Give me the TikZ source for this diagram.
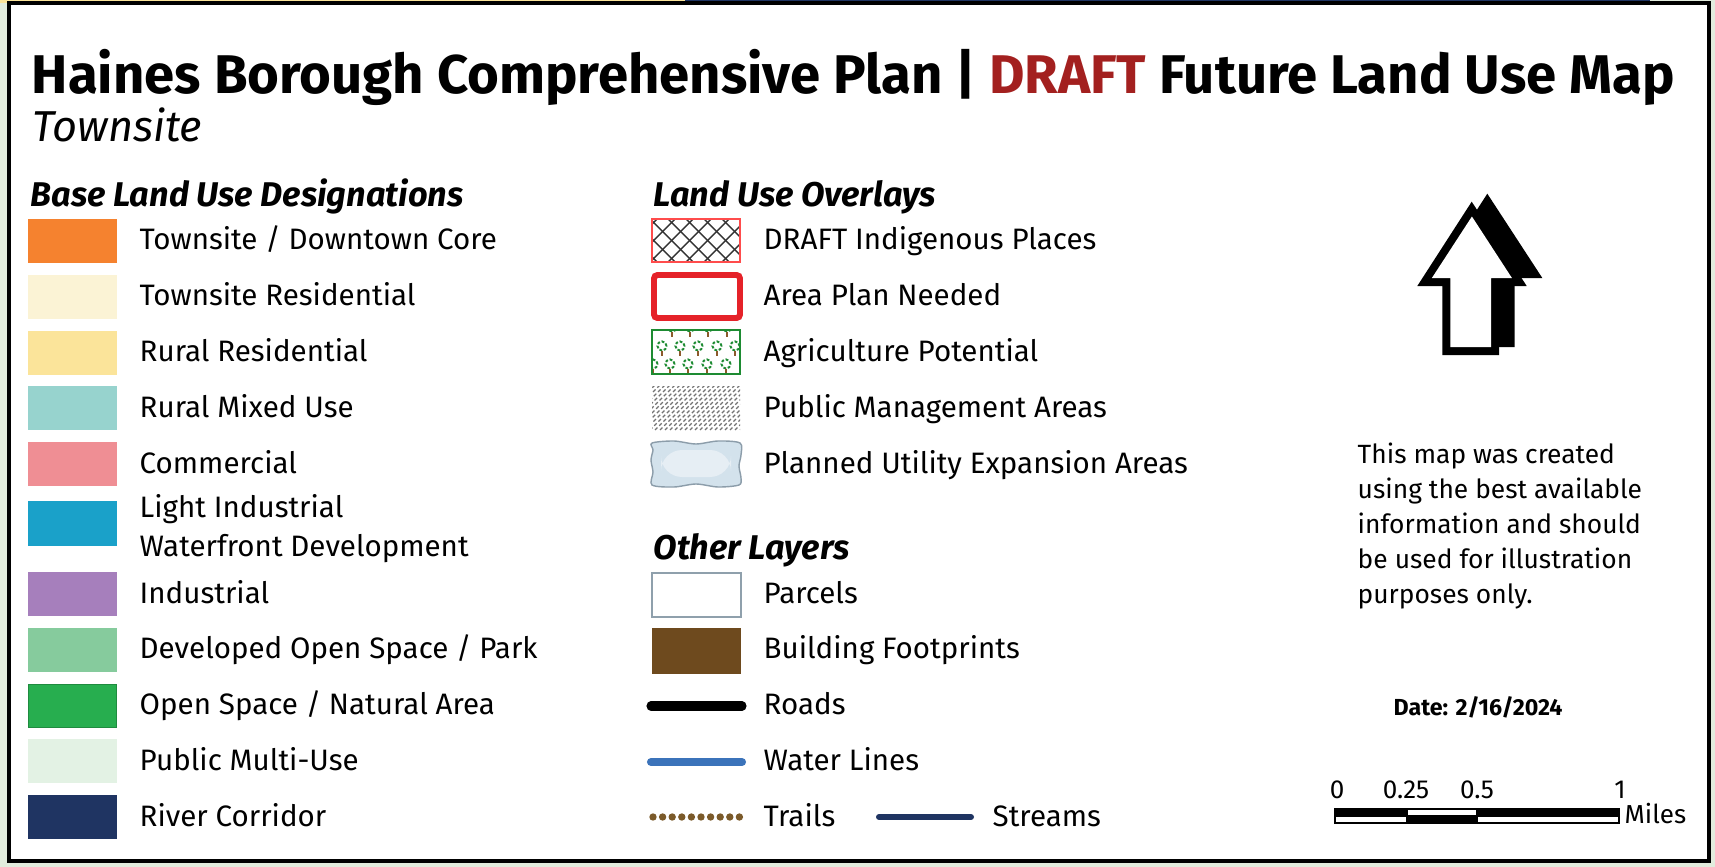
\documentclass[tikz,border=0pt]{standalone}
\usepackage{fontspec}
\setmainfont{Fira Sans}

\definecolor{mapgreen}{HTML}{E2ECDD}
\definecolor{draftred}{HTML}{A3201F}
\definecolor{cTDC}{HTML}{F5822F}
\definecolor{cTR}{HTML}{FBF3D5}
\definecolor{cRR}{HTML}{FBE49A}
\definecolor{cRMU}{HTML}{97D3CE}
\definecolor{cCom}{HTML}{EF8E94}
\definecolor{cLI}{HTML}{1AA1C9}
\definecolor{cInd}{HTML}{A67FBC}
\definecolor{cDOS}{HTML}{86CB9D}
\definecolor{cOS}{HTML}{27AE4F}
\definecolor{cPMU}{HTML}{E3F2E4}
\definecolor{cRC}{HTML}{1F3462}
\definecolor{planred}{HTML}{E52229}
\definecolor{agrigreen}{HTML}{1D8B32}
\definecolor{trunk}{HTML}{8B5A2B}
\definecolor{utilfill}{HTML}{D3E2EC}
\definecolor{utilin}{HTML}{E6EEF4}
\definecolor{utilline}{HTML}{8C9DAA}
\definecolor{parcelline}{HTML}{8FA0AC}
\definecolor{building}{HTML}{6E4A1E}
\definecolor{waterblue}{HTML}{3B73BA}
\definecolor{trailbrown}{HTML}{7B5A2A}

\newcommand\titlesize{\fontsize{15.5}{18}\selectfont}
\newcommand\subsize{\fontsize{12.3}{15}\selectfont}
\newcommand\headsize{\fontsize{9.75}{11}\selectfont}
\newcommand\legsize{\fontsize{8.4}{10}\selectfont}
\newcommand\notesize{\fontsize{7.5}{10}\selectfont}
\newcommand\datesize{\fontsize{6.6}{8}\selectfont}
\newcommand\smallsize{\fontsize{7.4}{9}\selectfont}

\begin{document}
\begin{tikzpicture}[x=0.01cm,y=-0.01cm,
    legtext/.style={anchor=base west,inner sep=0pt,font=\legsize},
    headtext/.style={anchor=base west,inner sep=0pt,font=\headsize\bfseries\itshape},
    notetext/.style={anchor=base west,inner sep=0pt,font=\notesize},
    scaletext/.style={anchor=base,inner sep=0pt,font=\smallsize},
    hatchline/.style={line width=0.4pt,black!80},
    tree/.style={agrigreen,line width=0.55pt,dash pattern=on 0.8pt off 0.5pt}]

    % map behind the legend panel and the frame
    \useasboundingbox (0,0) rectangle (1715,867);
    \fill[mapgreen] (0,0) rectangle (1715,867);
    \fill[cRR] (0,0) rectangle (685,3);
    \fill[cRC] (685,0) rectangle (1650,3);
    \fill[white] (9,3) rectangle (1709,861);
    \draw[line width=0.9pt] (9,3) rectangle (1709,861);

    % title
    \node[anchor=base west,inner sep=0pt,font=\titlesize\bfseries] (title) at (31,94)
      {Haines Borough Comprehensive Plan | \textcolor{draftred}{DRAFT} Future Land Use Map};
    \node[anchor=base west,inner sep=0pt,font=\subsize\itshape] (sub) at (32,142) {Townsite};

    % base land use swatches, 5 rows above the light industrial one
    \node[headtext] (hbase) at (30,206) {Base Land Use Designations};
    \foreach \col/\lab [count=\i] in {cTDC/{Townsite / Downtown Core},
        cTR/{Townsite Residential}, cRR/{Rural Residential},
        cRMU/{Rural Mixed Use}, cCom/{Commercial}} {
      \fill[\col] (28,163.25+55.75*\i) rectangle (117,207.25+55.75*\i);
      \node[legtext] (b\i) at (139,194.25+55.75*\i) {\lab};
    }

    \fill[cLI] (28,501) rectangle (117,546);
    \node[legtext] (bli) at (139,517) {Light Industrial};
    \node[legtext] (bwf) at (139,556) {Waterfront Development};

    % 5 rows below it
    \foreach \col/\lab [count=\i] in {cInd/{Industrial},
        cDOS/{Developed Open Space / Park}, cOS/{Open Space / Natural Area},
        cPMU/{Public Multi-Use}, cRC/{River Corridor}} {
      \fill[\col] (28,516.25+55.75*\i) rectangle (117,560.25+55.75*\i);
      \node[legtext] (d\i) at (139,547.25+55.75*\i) {\lab};
    }
    \draw[cOS!80!black,line width=0.4pt] (28.5,684.5) rectangle (116.5,727.5);

    % overlays
    \node[headtext] (hover) at (653,206) {Land Use Overlays};
    \foreach \lab [count=\i] in {DRAFT Indigenous Places, Area Plan Needed,
        Agriculture Potential, Public Management Areas,
        Planned Utility Expansion Areas} {
      \node[legtext] (o\i) at (763,194.25+55.75*\i) {\lab};
    }

    % cross hatch
    \begin{scope}
      \clip (652,219) rectangle (740,262);
      \foreach \k in {0,...,9} {
        \draw[hatchline] (596+18*\k,262) -- ++(46,-46);
        \draw[hatchline] (596+18*\k,219) -- ++(46,46);
      }
    \end{scope}
    \draw[red!70,line width=0.3pt] (652,219) rectangle (740,262);

    % area plan box
    \draw[planred,line width=1.7pt,rounded corners=1pt] (654,275) rectangle (740,318);

    % trees
    \begin{scope}
      \clip (652,330) rectangle (740,374);
      \foreach \x in {672,690,708,727} {
        \draw[tree] (\x,327) circle (1.3pt);
        \draw[trunk,line width=0.5pt] (\x,332) -- ++(0,5);
      }
      \foreach \x in {662,680,698,717,735} {
        \draw[tree] (\x,346) circle (1.3pt);
        \draw[trunk,line width=0.5pt] (\x,350.6) -- ++(0,5);
      }
      \foreach \x in {653,670,688,707,726} {
        \draw[tree] (\x,364) circle (1.3pt);
        \draw[trunk,line width=0.5pt] (\x,368.6) -- ++(0,5);
      }
    \end{scope}
    \draw[agrigreen,line width=0.6pt] (652,330) rectangle (740,374);

    % public management dashes
    \begin{scope}
      \clip (652,386) rectangle (740,430);
      \foreach \k in {0,...,28} {
        \draw[black!55,line width=0.35pt,dash pattern=on 1pt off 0.7pt]
          (600+5*\k,430) -- ++(46,-46);
      }
    \end{scope}

    % utility
    \filldraw[fill=utilfill,draw=utilline,line width=0.4pt] plot[smooth cycle] coordinates
      {(652,443) (674,441) (696,444) (718,441) (740,443) (741,455) (739,466)
       (741,478) (739,485) (718,487) (696,484) (674,487) (652,485) (653,472)
       (651,460) (653,450)};
    \fill[utilin,rounded corners=6pt] (661,450) rectangle (731,477);

    % other layers
    \node[headtext] (hother) at (653,559) {Other Layers};
    \foreach \lab [count=\i] in {Parcels, Building Footprints, Roads,
        Water Lines, Trails} {
      \node[legtext] (p\i) at (763,547.25+55.75*\i) {\lab};
    }
    \draw[parcelline,line width=0.45pt] (652,573) rectangle (741,617);
    \fill[building] (652,628) rectangle (741,674);
    \draw[line width=2.6pt,line cap=round] (651,706) -- (742,706);
    \draw[waterblue,line width=2.3pt,line cap=round] (651,762) -- (742,762);
    \foreach \k in {0,...,9} {
      \fill[trailbrown] (653+9.6*\k,817) circle (1.05pt);
    }
    \draw[cRC,line width=1.7pt,line cap=round] (879,817) -- (971,817);
    \node[legtext] (streams) at (992,826) {Streams};

    % north arrow with its shadow
    \fill (1487.3,193.7) -- (1542.3,278) -- (1514.6,278) -- (1514.6,347)
      -- (1457.9,347) -- (1457.9,278) -- (1432.9,278) -- cycle;
    \fill (1471.7,201.7) -- (1526.7,286) -- (1499,286) -- (1499,355)
      -- (1442.3,355) -- (1442.3,286) -- (1417.3,286) -- cycle;
    \fill[white] (1471.9,216.5) -- (1511.9,278) -- (1491,278) -- (1491,347)
      -- (1450.3,347) -- (1450.3,278) -- (1431.9,278) -- cycle;

    % note
    \foreach \lab [count=\i] in {This map was created, using the best available,
        information and should, be used for illustration, purposes only.} {
      \node[notetext] (n\i) at (1357,428+35*\i) {\lab};
    }
    \node[anchor=base west,inner sep=0pt,font=\datesize\bfseries] (date) at (1393,715) {Date: 2/16/2024};

    % scale bar
    \foreach \a/\b/\c in {1335/1407/black,1407/1477/white,1477/1619/black} {
      \fill[\c] (\a,809) rectangle (\b,816);
      \draw[line width=0.35pt] (\a,809) rectangle (\b,816);
    }
    \foreach \a/\b/\c in {1335/1407/white,1407/1477/black,1477/1619/white} {
      \fill[\c] (\a,816) rectangle (\b,823);
      \draw[line width=0.35pt] (\a,816) rectangle (\b,823);
    }
    \node[scaletext] (s0) at (1337,798) {0};
    \node[scaletext] (s25) at (1406,798) {0.25};
    \node[scaletext] (s50) at (1477,798) {0.5};
    \node[scaletext] (s1) at (1620,798) {1};
    \node[anchor=base west,inner sep=0pt,font=\smallsize] (miles) at (1624,823) {Miles};

  \end{tikzpicture}
\end{document}
